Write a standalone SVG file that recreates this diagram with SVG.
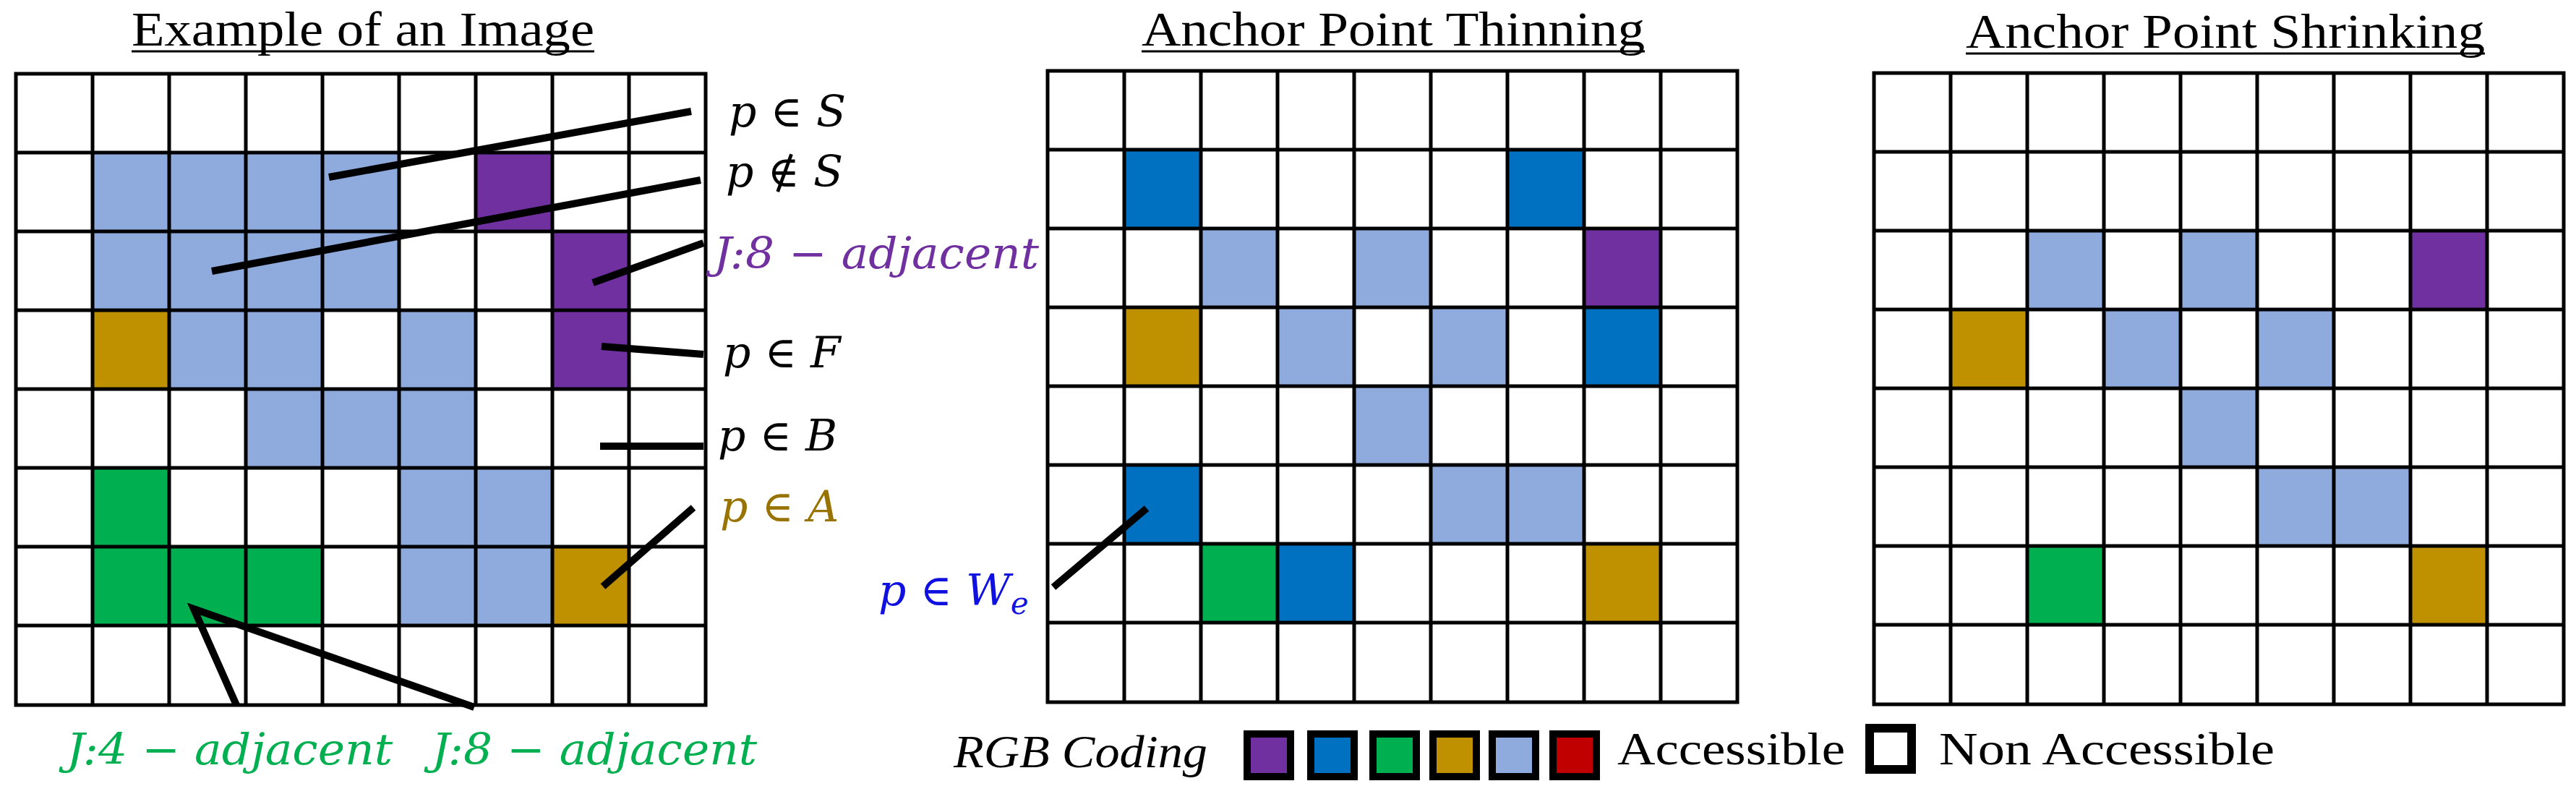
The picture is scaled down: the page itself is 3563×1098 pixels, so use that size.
<svg xmlns="http://www.w3.org/2000/svg" width="3563" height="1098" viewBox="0 0 3563 1098">
<style>
.lb{fill:#8faadc}.pu{fill:#7030a0}.go{fill:#bf9000}.gr{fill:#00b050}.bl{fill:#0070c0}.rd{fill:#c00000}
.g{stroke:#000;stroke-width:5;fill:none}
.ptr{stroke:#000;stroke-width:10;stroke-linecap:butt}
.t{font-family:"Liberation Serif",serif;font-size:68px;fill:#000}
.m{font-family:"DejaVu Serif","Liberation Serif",serif;font-style:italic;font-size:60px}
.lg{font-family:"Liberation Serif",serif;font-size:64px;fill:#000}
</style>
<defs>
<g id="grid">
<rect x="0" y="0" width="954" height="873" class="g"/>
<path class="g" d="M106 0V873M212 0V873M318 0V873M424 0V873M530 0V873M636 0V873M742 0V873M848 0V873M0 109H954M0 218H954M0 327H954M0 436H954M0 545H954M0 654H954M0 763H954"/>
</g>
</defs>
<g id="grid1" transform="translate(22,102)">
<rect class="lb" x="106" y="109" width="424" height="218"/>
<rect class="pu" x="636" y="109" width="106" height="109"/>
<rect class="pu" x="742" y="218" width="106" height="218"/>
<rect class="go" x="106" y="327" width="106" height="109"/>
<rect class="lb" x="212" y="327" width="212" height="109"/>
<rect class="lb" x="530" y="327" width="106" height="218"/>
<rect class="lb" x="318" y="436" width="212" height="109"/>
<rect class="gr" x="106" y="545" width="106" height="218"/>
<rect class="gr" x="212" y="654" width="212" height="109"/>
<rect class="lb" x="530" y="545" width="212" height="218"/>
<rect class="go" x="742" y="654" width="106" height="109"/>
<use href="#grid"/>
</g>
<g id="grid2" transform="translate(1449,98)">
<rect class="bl" x="106" y="109" width="106" height="109"/>
<rect class="bl" x="636" y="109" width="106" height="109"/>
<rect class="lb" x="212" y="218" width="106" height="109"/>
<rect class="lb" x="424" y="218" width="106" height="109"/>
<rect class="pu" x="742" y="218" width="106" height="109"/>
<rect class="go" x="106" y="327" width="106" height="109"/>
<rect class="lb" x="318" y="327" width="106" height="109"/>
<rect class="lb" x="530" y="327" width="106" height="109"/>
<rect class="bl" x="742" y="327" width="106" height="109"/>
<rect class="lb" x="424" y="436" width="106" height="109"/>
<rect class="bl" x="106" y="545" width="106" height="109"/>
<rect class="lb" x="530" y="545" width="212" height="109"/>
<rect class="gr" x="212" y="654" width="106" height="109"/>
<rect class="bl" x="318" y="654" width="106" height="109"/>
<rect class="go" x="742" y="654" width="106" height="109"/>
<use href="#grid"/>
</g>
<g id="grid3" transform="translate(2592,101)">
<rect class="lb" x="212" y="218" width="106" height="109"/>
<rect class="lb" x="424" y="218" width="106" height="109"/>
<rect class="pu" x="742" y="218" width="106" height="109"/>
<rect class="go" x="106" y="327" width="106" height="109"/>
<rect class="lb" x="318" y="327" width="106" height="109"/>
<rect class="lb" x="530" y="327" width="106" height="109"/>
<rect class="lb" x="424" y="436" width="106" height="109"/>
<rect class="lb" x="530" y="545" width="212" height="109"/>
<rect class="gr" x="212" y="654" width="106" height="109"/>
<rect class="go" x="742" y="654" width="106" height="109"/>
<use href="#grid"/>
</g>
<g id="connectors">
<line class="ptr" x1="455" y1="245" x2="956" y2="154"/>
<line class="ptr" x1="293" y1="375" x2="969" y2="249"/>
<line class="ptr" x1="820" y1="391" x2="973" y2="336"/>
<line class="ptr" x1="832" y1="479" x2="973" y2="490"/>
<line class="ptr" x1="830" y1="617" x2="973" y2="617"/>
<line class="ptr" x1="834" y1="811" x2="959" y2="702"/>
<polyline class="ptr" fill="none" points="327,975 268,842 656,978"/>
<line class="ptr" x1="1457" y1="812" x2="1586" y2="703"/>
</g>
<g id="titles">
<text class="t" x="182" y="63" textLength="640" lengthAdjust="spacingAndGlyphs">Example of an Image</text>
<line x1="182" y1="71" x2="822" y2="71" stroke="#000" stroke-width="3"/>
<text class="t" x="1579" y="63" textLength="696" lengthAdjust="spacingAndGlyphs">Anchor Point Thinning</text>
<line x1="1579" y1="71" x2="2275" y2="71" stroke="#000" stroke-width="3"/>
<text class="t" x="2719" y="66" textLength="718" lengthAdjust="spacingAndGlyphs">Anchor Point Shrinking</text>
<line x1="2719" y1="74" x2="3437" y2="74" stroke="#000" stroke-width="3"/>
</g>
<g id="labels">
<text class="m" x="1008" y="175" fill="#000">p ∈ S</text>
<text class="m" x="1004" y="258" fill="#000">p ∉ S</text>
<text class="m" x="987" y="371" fill="#7030a0" textLength="450" lengthAdjust="spacingAndGlyphs">J:8 − adjacent</text>
<text class="m" x="1000" y="508" fill="#000">p ∈ F</text>
<text class="m" x="993" y="623" fill="#000">p ∈ B</text>
<text class="m" x="996" y="721" fill="#997300">p ∈ A</text>
<text class="m" x="92" y="1057" fill="#00b050" textLength="451" lengthAdjust="spacingAndGlyphs">J:4 − adjacent</text>
<text class="m" x="597" y="1057" fill="#00b050" textLength="450" lengthAdjust="spacingAndGlyphs">J:8 − adjacent</text>
<text class="m" x="1215" y="837" fill="#1010e0">p ∈ W<tspan font-size="42" dy="12">e</tspan></text>
</g>
<g id="legend">
<text class="lg" x="1319" y="1061" font-style="italic" textLength="351" lengthAdjust="spacingAndGlyphs">RGB Coding</text>
<g stroke="#000" stroke-width="10">
<rect class="pu" x="1725" y="1015" width="60" height="59"/>
<rect class="bl" x="1813" y="1015" width="60" height="59"/>
<rect class="gr" x="1899" y="1015" width="60" height="59"/>
<rect class="go" x="1982" y="1015" width="60" height="59"/>
<rect class="lb" x="2064" y="1015" width="60" height="59"/>
<rect class="rd" x="2148" y="1015" width="60" height="59"/>
<rect fill="#fff" x="2586" y="1007" width="58" height="57" stroke-width="12"/>
</g>
<text class="lg" x="2237" y="1057" textLength="315" lengthAdjust="spacingAndGlyphs">Accessible</text>
<text class="lg" x="2682" y="1057" textLength="464" lengthAdjust="spacingAndGlyphs">Non Accessible</text>
</g>
</svg>
